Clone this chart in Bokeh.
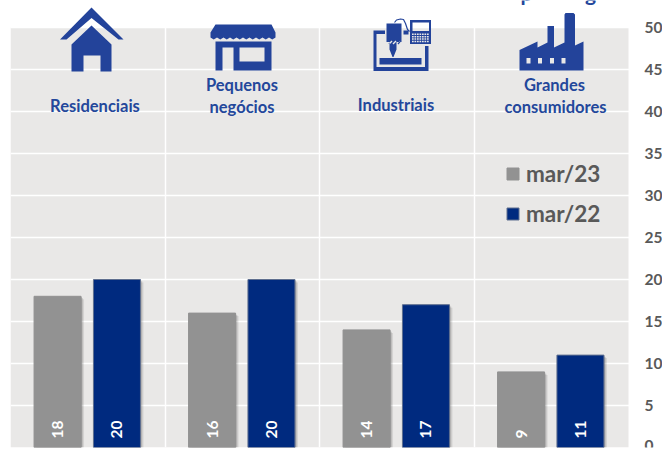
from bokeh.plotting import figure
from bokeh.embed import file_html
from bokeh.resources import INLINE
from bokeh.core.properties import value
from bokeh.models import (ColumnDataSource, Range1d, FixedTicker, Grid, BoxAnnotation,
                          Legend, LegendItem)
from bokeh.transform import dodge
import math

categories = ["Residenciais", "Pequenos negócios", "Industriais", "Grandes consumidores"]
mar23 = [18, 16, 14, 9]
mar22 = [20, 20, 17, 11]
series_names = ["mar/23", "mar/22"]
y_ticks = [0, 5, 10, 15, 20, 25, 30, 35, 40, 45, 50]

GREY, NAVY, PANEL = "#929292", "#002A7F", "#E9E8E7"
ICON, LABEL, TICK = "#23439A", "#23479B", "#595959"

# page-pixel geometry of the plot panel
L, R, T, B = 10.0, 628.0, 27.0, 447.0
PX_X = (R - L) / 4
PX_Y = (B - T) / 50
fx = lambda px: (px - L) / PX_X
fy = lambda py: (B - py) / PX_Y

p = figure(width=662, height=450, output_backend="svg", toolbar_location=None,
           x_range=Range1d(0, fx(662)), y_range=Range1d(0, fy(0)),
           x_axis_location=None, y_axis_location="right",
           min_border_left=int(L), min_border_right=0, min_border_top=0, min_border_bottom=3)
p.outline_line_color = None
p.background_fill_color = "white"
p.border_fill_color = "white"
p.grid.visible = False

p.add_layout(BoxAnnotation(left=0, right=4, bottom=0, top=50, fill_color=PANEL, fill_alpha=1,
                           line_color=None, level="image"))
p.add_layout(Grid(dimension=0, ticker=FixedTicker(ticks=[1, 2, 3]), bounds=(0, 50),
                  grid_line_color="white", grid_line_width=1.5, level="underlay"))
p.add_layout(Grid(dimension=1, ticker=FixedTicker(ticks=y_ticks), bounds=(0, 4),
                  grid_line_color="white", grid_line_width=1.5, level="underlay"))

ax = p.yaxis[0]
ax.fixed_location = 4
ax.ticker = FixedTicker(ticks=y_ticks)
ax.axis_line_color = None
ax.major_tick_line_color = None
ax.minor_tick_line_color = None
ax.major_tick_out = 0
ax.major_label_standoff = 16
ax.major_label_text_font = "Lato"
ax.major_label_text_font_style = "bold"
ax.major_label_text_font_size = "15.5px"
ax.major_label_text_color = TICK

# bars
centers = [i + 0.5 for i in range(4)]
src = ColumnDataSource(dict(x=centers, a=mar23, b=mar22,
                            la=[str(v) for v in mar23], lb=[str(v) for v in mar22]))
W = 47 / PX_X
OA, OB = -30.2 / PX_X, 29.2 / PX_X
SX, SY = 3 / PX_X, 3 / PX_Y
for k, al in [(1.0, 0.14), (0.6, 0.2), (0.25, 0.25)]:
    for col, off in [("a", OA), ("b", OB)]:
        src.data[col + "s" + str(k)] = [v - SY * k for v in src.data[col]]
        p.vbar(x=dodge("x", off + SX * k), top=col + "s" + str(k), bottom=fy(449), width=W,
               source=src, fill_color="#555555", fill_alpha=al, line_color=None)
ra = p.vbar(x=dodge("x", OA), top="a", bottom=fy(448.5), width=W, source=src,
            fill_color=GREY, line_color=GREY)
rb = p.vbar(x=dodge("x", OB), top="b", bottom=fy(448.5), width=W, source=src,
            fill_color=NAVY, line_color="#5F6F8F", line_width=1)

lab_y = fy(438)
for col, off in [("la", OA), ("lb", OB)]:
    p.text(x=dodge("x", off), y=lab_y, text=col, source=src, angle=math.pi / 2,
           text_color="white", text_font=value("Lato"), text_font_style="bold",
           text_font_size="15.5px", text_align="left", text_baseline="middle")

# category labels
lab_x = [94.5, 241.5, 241.5, 395.5, 554.0, 555.0]
lab_yy = [105.5, 84.0, 106.0, 104.5, 84.0, 106.0]
lab_t = [categories[0], "Pequenos", "negócios", categories[2], "Grandes", "consumidores"]
p.text(x=[fx(v) for v in lab_x], y=[fy(v) for v in lab_yy], text=lab_t,
       text_color=LABEL, text_font=value("Lato"), text_font_style="bold",
       text_font_size="16.5px", text_align="center", text_baseline="middle")

# the last bits of a title cut off by the top of the picture
p.text(x=[fx(526), fx(590)], y=[fy(4), fy(4)], text=["p", "g"],
       text_color=LABEL, text_font=value("Lato"), text_font_style="bold",
       text_font_size="21px", text_align="center", text_baseline="bottom")

# icons: outlines in page pixels
xs, ys = [], []
def icon(outer, holes=()):
    xs.append([[[fx(a) for a, _ in outer]] + [[fx(a) for a, _ in h] for h in holes]])
    ys.append([[[fy(b) for _, b in outer]] + [[fy(b) for _, b in h] for h in holes]])
def rect(x0, y0, x1, y1):
    return [(x0, y0), (x1, y0), (x1, y1), (x0, y1)]

# house
icon([(59.5, 39), (91, 7), (123, 39), (118, 39), (91, 17.5), (66, 39)])
icon([(91, 25), (111, 44), (111, 71), (100, 71), (100, 55), (83, 55), (83, 71), (71, 71), (71, 44)])
# shop
scallop = []
for i in range(0, 10):
    xx = 275 - i * 6.5
    scallop += [(xx, 37), (xx - 3.25, 39)]
scallop.append((210, 37))
icon([(215, 24), (271, 24), (275, 32)] + scallop + [(210, 32)])
icon([(215, 41), (271, 41), (271, 70), (233, 70), (233, 47), (222, 47), (222, 70), (215, 70)],
     [rect(239, 47, 264, 61)])
# machine
icon([(373, 30), (384.5, 30), (384.5, 33.5), (376, 33.5), (376, 66.5), (424.5, 66.5), (424.5, 45.5),
      (428, 45.5), (428, 70.5), (373, 70.5)])
icon(rect(379, 57.5, 421, 64))
icon([(386, 23), (401, 23), (401, 41.5), (396, 41.5), (396, 49), (393, 56.5), (392, 56.5), (389, 49),
      (389, 41.5), (386, 41.5)],
     [[(388, 43), (391, 40), (392, 41), (389, 44)], [(392, 43), (395, 40), (396, 41), (393, 44)],
      [(397, 43), (399, 41), (400, 41.5), (398, 44)]])
keys = []
for r in range(4):
    for c in range(7):
        keys.append(rect(411.5 + c * 2.5, 33 + r * 2.4, 413.2 + c * 2.5, 34.5 + r * 2.4))
icon(rect(409.5, 19.5, 430.5, 43.5), [rect(412, 22, 428.5, 30.5)] + keys)
icon(rect(403, 30, 408, 34))
# factory
icon([(519, 49.5), (537, 41), (537, 47), (547, 42), (547, 25.5), (553.5, 25.5), (553.5, 47), (564, 42),
      (564, 14), (565, 12.5), (573, 12.5), (574.5, 14), (574.5, 45), (583, 41), (583, 70), (519, 70)],
     [rect(526, 57.5, 530, 63), rect(537.5, 57.5, 541.5, 63), rect(549.5, 57.5, 553.5, 63),
      rect(561, 57.5, 565, 63)])
p.multi_polygons(xs=xs, ys=ys, fill_color=ICON, line_color=None)
p.line(x=[fx(v) for v in (394, 396, 400, 403, 405, 407, 409)],
       y=[fy(v) for v in (22, 19.5, 18.5, 19, 23, 29, 31)], line_color=ICON, line_width=1.2)

# legend
leg = Legend(items=[LegendItem(label=series_names[0], renderers=[ra]),
                    LegendItem(label=series_names[1], renderers=[rb])],
             location=(495, 220), orientation="vertical", background_fill_alpha=0,
             border_line_color=None, padding=0, margin=0, spacing=13,
             glyph_width=15, glyph_height=15, label_standoff=6, label_height=24,
             label_text_font="Lato", label_text_font_style="bold",
             label_text_font_size="22.5px", label_text_color=TICK)
p.add_layout(leg, "center")

open("out.html", "w").write(file_html(p, INLINE))
